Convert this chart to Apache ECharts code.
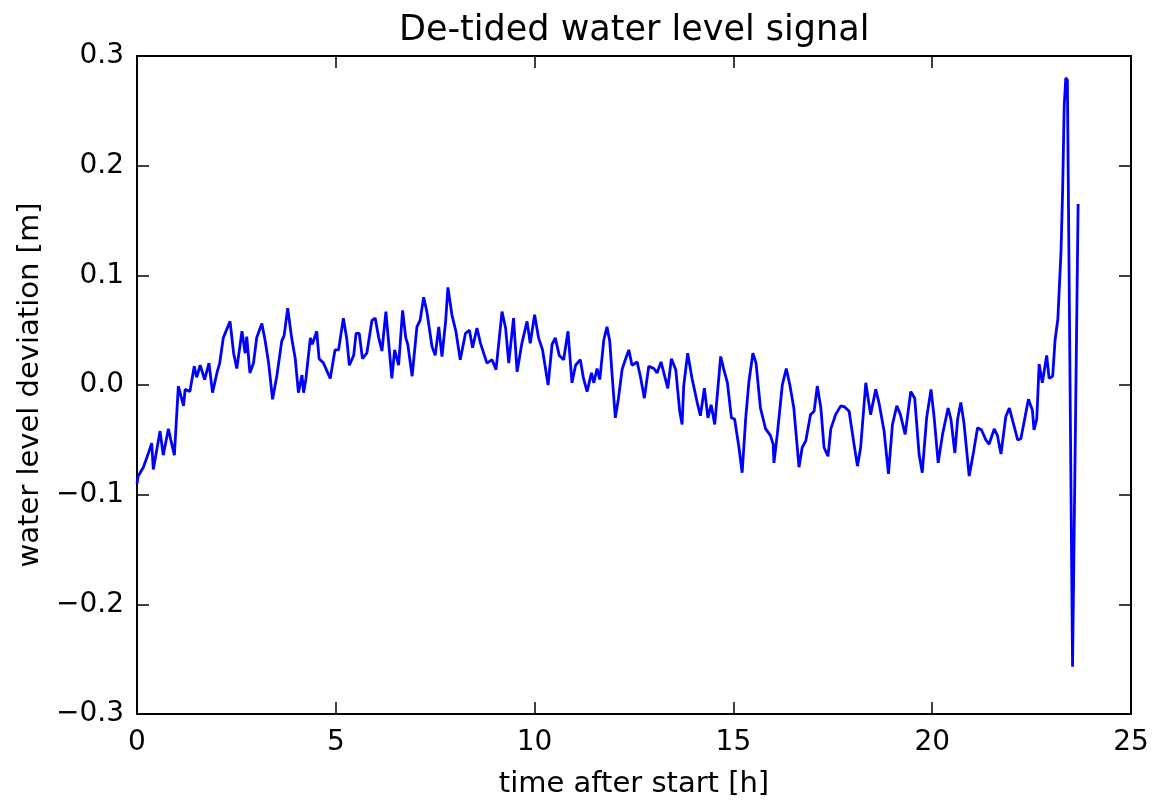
<!DOCTYPE html>
<html>
<head>
<meta charset="utf-8">
<script src="https://cdn.jsdelivr.net/npm/echarts@6/dist/echarts.min.js"></script>
<style>
html,body{margin:0;padding:0;background:#fff;}
#chart{width:1157px;height:804px;}
</style>
</head>
<body>
<div id="chart"></div>
<script>
// time after start [h]
var timeHours = [
0.00,0.03,0.16,0.28,0.37,0.41,0.58,0.66,0.79,0.85,0.94,1.04,1.17,1.21,1.33,1.44,1.50,1.59,1.70,1.81,
1.90,2.01,2.08,2.17,2.34,2.43,2.51,2.64,2.72,2.76,2.84,2.93,3.01,3.14,3.22,3.31,3.41,3.52,3.64,3.70,
3.79,3.89,3.98,4.06,4.15,4.19,4.25,4.36,4.41,4.52,4.58,4.69,4.86,4.98,5.07,5.19,5.28,5.34,5.45,5.51,
5.59,5.67,5.78,5.91,5.99,6.08,6.16,6.26,6.41,6.48,6.58,6.68,6.76,6.81,6.92,7.04,7.12,7.21,7.29,7.42,
7.50,7.59,7.67,7.76,7.82,7.92,8.02,8.13,8.26,8.36,8.44,8.55,8.64,8.80,8.93,9.03,9.18,9.27,9.35,9.47,
9.56,9.68,9.81,9.89,10.00,10.10,10.20,10.34,10.44,10.52,10.62,10.73,10.84,10.94,11.03,11.15,11.23,11.32,11.43,11.49,
11.57,11.64,11.74,11.82,11.89,11.95,12.03,12.11,12.20,12.29,12.37,12.45,12.58,12.66,12.76,12.87,13.00,13.08,13.18,13.35,
13.44,13.55,13.65,13.71,13.75,13.85,13.96,14.09,14.17,14.27,14.36,14.44,14.53,14.68,14.76,14.85,14.95,15.03,15.14,15.22,
15.31,15.39,15.49,15.57,15.68,15.81,15.93,16.00,16.02,16.11,16.23,16.33,16.42,16.52,16.65,16.73,16.82,16.94,17.03,17.11,
17.20,17.28,17.38,17.45,17.57,17.70,17.80,17.91,18.03,18.12,18.20,18.33,18.45,18.58,18.66,18.79,18.90,19.00,19.11,19.20,
19.32,19.46,19.56,19.67,19.75,19.86,19.97,20.05,20.15,20.26,20.40,20.47,20.57,20.64,20.72,20.80,20.93,21.04,21.14,21.24,
21.35,21.43,21.56,21.64,21.73,21.85,21.94,22.02,22.15,22.23,22.31,22.42,22.52,22.56,22.63,22.69,22.77,22.88,22.94,23.03,
23.09,23.16,23.24,23.28,23.32,23.36,23.40,23.53,23.57,23.67
];
// water level deviation [m]
var deviationM = [
-0.090,-0.083,-0.075,-0.063,-0.053,-0.077,-0.042,-0.064,-0.040,-0.050,-0.064,-0.001,-0.019,-0.004,-0.006,0.017,0.007,0.018,0.005,0.020,
-0.007,0.011,0.020,0.043,0.058,0.029,0.015,0.049,0.029,0.044,0.011,0.020,0.043,0.056,0.041,0.020,-0.013,0.009,0.040,0.045,
0.070,0.043,0.024,-0.007,0.009,-0.007,0.006,0.043,0.037,0.049,0.024,0.020,0.006,0.032,0.032,0.061,0.041,0.018,0.027,0.047,
0.047,0.024,0.029,0.059,0.061,0.043,0.031,0.067,0.006,0.032,0.018,0.068,0.043,0.037,0.008,0.053,0.059,0.080,0.067,0.035,
0.027,0.053,0.026,0.057,0.089,0.064,0.049,0.023,0.047,0.050,0.034,0.052,0.038,0.020,0.023,0.014,0.067,0.052,0.020,0.061,
0.012,0.038,0.058,0.038,0.064,0.043,0.032,0.000,0.037,0.043,0.027,0.023,0.049,0.002,0.018,0.023,0.006,-0.006,0.011,0.002,
0.015,0.005,0.041,0.053,0.040,0.009,-0.030,-0.012,0.014,0.024,0.032,0.018,0.021,0.008,-0.012,0.017,0.015,0.011,0.021,-0.003,
0.024,0.014,-0.024,-0.036,-0.001,0.029,0.006,-0.016,-0.028,-0.003,-0.030,-0.018,-0.036,0.026,0.014,0.002,-0.030,-0.031,-0.057,-0.080,
-0.030,0.003,0.029,0.020,-0.021,-0.040,-0.046,-0.054,-0.071,-0.043,0.000,0.015,0.000,-0.021,-0.075,-0.057,-0.051,-0.027,-0.024,-0.001,
-0.021,-0.057,-0.065,-0.040,-0.027,-0.019,-0.020,-0.024,-0.053,-0.074,-0.057,0.002,-0.027,-0.004,-0.016,-0.042,-0.081,-0.036,-0.019,-0.027,
-0.045,-0.006,-0.012,-0.063,-0.080,-0.030,-0.004,-0.030,-0.071,-0.045,-0.021,-0.031,-0.062,-0.031,-0.016,-0.035,-0.083,-0.061,-0.039,-0.041,
-0.050,-0.054,-0.040,-0.046,-0.063,-0.029,-0.021,-0.032,-0.050,-0.049,-0.034,-0.013,-0.023,-0.041,-0.031,0.019,0.002,0.027,0.006,0.008,
0.041,0.060,0.122,0.177,0.254,0.280,0.278,-0.257,-0.257,0.165
];
var xTicks = [0, 5, 10, 15, 20, 25];
var yTicks = [-0.3, -0.2, -0.1, 0.0, 0.1, 0.2, 0.3];
var titleText = 'De-tided water level signal';
var xName = 'time after start [h]';
var yName = 'water level deviation [m]';

var FONT = 'DejaVu Sans';
var points = timeHours.map(function (t, i) { return [t, deviationM[i]]; });

function fmtY(v) {
  var s = (Math.abs(v) < 1e-9 ? 0 : v).toFixed(1);
  return s.replace('-', '\u2212');
}

function axisLineStyle() { return { show: true, onZero: false, lineStyle: { color: '#000', width: 2 } }; }
function tickStyle() { return { show: true, inside: true, length: 12, lineStyle: { color: '#000', width: 1.5 } }; }

var chart = echarts.init(document.getElementById('chart'), null, { renderer: 'canvas' });
chart.setOption({
  animation: false,
  backgroundColor: '#fff',
  title: {
    text: titleText,
    left: 394,
    top: 8,
    textStyle: { fontFamily: FONT, fontSize: 35, fontWeight: 'normal', color: '#000' }
  },
  grid: { left: 137, top: 56, right: 26, bottom: 86, containLabel: false },
  xAxis: [{
    type: 'value',
    min: xTicks[0], max: xTicks[xTicks.length - 1], interval: 5,
    position: 'bottom',
    name: xName, nameLocation: 'middle', nameGap: 56,
    nameTextStyle: { fontFamily: FONT, fontSize: 29, color: '#000' },
    axisLine: axisLineStyle(), axisTick: tickStyle(),
    axisLabel: { show: true, margin: 15, fontFamily: FONT, fontSize: 28, color: '#000' },
    splitLine: { show: false }
  }, {
    type: 'value',
    min: xTicks[0], max: xTicks[xTicks.length - 1], interval: 5,
    position: 'top',
    axisLine: axisLineStyle(), axisTick: tickStyle(),
    axisLabel: { show: false }, splitLine: { show: false }
  }],
  yAxis: [{
    type: 'value',
    min: yTicks[0], max: yTicks[yTicks.length - 1], interval: 0.1,
    position: 'left',
    name: yName, nameLocation: 'middle', nameGap: 80,
    nameTextStyle: { fontFamily: FONT, fontSize: 29, color: '#000' },
    axisLine: axisLineStyle(), axisTick: tickStyle(),
    axisLabel: { show: true, margin: 13, fontFamily: FONT, fontSize: 28, color: '#000', formatter: fmtY },
    splitLine: { show: false }
  }, {
    type: 'value',
    min: yTicks[0], max: yTicks[yTicks.length - 1], interval: 0.1,
    position: 'right',
    axisLine: axisLineStyle(), axisTick: tickStyle(),
    axisLabel: { show: false }, splitLine: { show: false }
  }],
  series: [{
    type: 'line',
    xAxisIndex: 0, yAxisIndex: 0,
    data: points,
    showSymbol: false,
    symbol: 'none',
    lineStyle: { color: '#0000ff', width: 2.8 },
    itemStyle: { color: '#0000ff' }
  }]
});
</script>
</body>
</html>
